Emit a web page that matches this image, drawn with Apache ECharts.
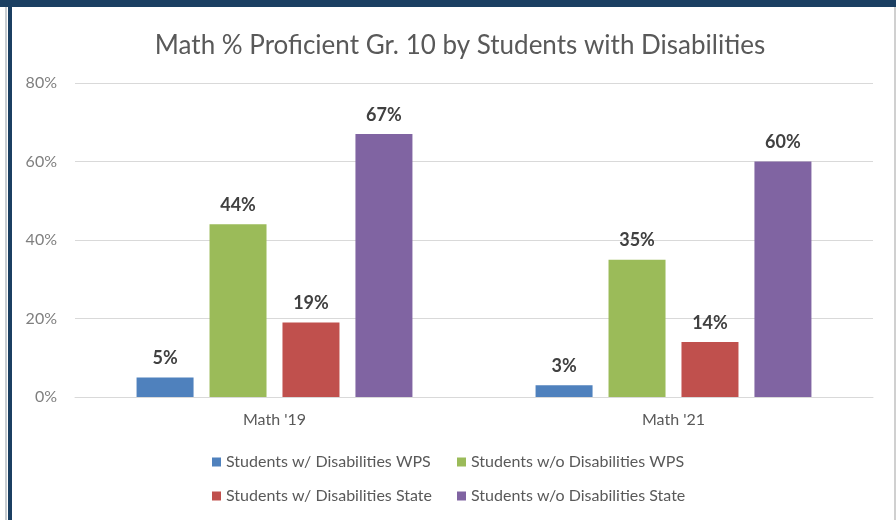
<!DOCTYPE html>
<html>
<head>
<meta charset="utf-8">
<script src="https://cdn.jsdelivr.net/npm/echarts@6/dist/echarts.min.js"></script>
<style>
  html, body { margin: 0; padding: 0; background: #fff; }
  #main { width: 896px; height: 520px; }
</style>
</head>
<body>
<div id="main"></div>
<script>
var categories = ["Math '19", "Math '21"];
var swdWps = [5, 3];
var swodWps = [44, 35];
var swdState = [19, 14];
var swodState = [67, 60];
var yTicks = [0, 20, 40, 60, 80];

var font = 'Lato';
var chart = echarts.init(document.getElementById('main'));

function barSeries(name, data, color) {
  return {
    name: name,
    type: 'bar',
    data: data,
    barWidth: 57,
    barGap: '28%',
    itemStyle: { color: color },
    label: {
      show: true,
      position: 'top',
      distance: 10,
      formatter: '{c}%',
      color: '#404040',
      fontWeight: 'bold',
      fontSize: 18,
      fontFamily: font
    }
  };
}

var legendText = { color: '#595959', fontSize: 16, fontFamily: font };

var option = {
  animation: false,
  textStyle: { fontFamily: font },
  title: {
    text: 'Math % Proficient Gr. 10 by Students with Disabilities',
    left: 455,
    textAlign: 'center',
    top: 28,
    textStyle: { color: '#595959', fontSize: 26, fontWeight: 'normal', fontFamily: font }
  },
  legend: [{
    data: ['Students w/ Disabilities WPS', 'Students w/ Disabilities State'],
    orient: 'vertical',
    left: 207,
    top: 449,
    icon: 'rect',
    itemWidth: 9,
    itemHeight: 9,
    itemGap: 18,
    textStyle: legendText
  }, {
    data: ['Students w/o Disabilities WPS', 'Students w/o Disabilities State'],
    orient: 'vertical',
    left: 452,
    top: 449,
    icon: 'rect',
    itemWidth: 9,
    itemHeight: 9,
    itemGap: 18,
    textStyle: legendText
  }],
  grid: { left: 75, right: 23, top: 83, bottom: 123 },
  xAxis: {
    type: 'category',
    data: categories,
    axisLine: { lineStyle: { color: '#d9d9d9', width: 1 } },
    axisTick: { show: false },
    axisLabel: { color: '#595959', fontSize: 16, margin: 15, fontFamily: font }
  },
  yAxis: {
    type: 'value',
    min: yTicks[0],
    max: yTicks[yTicks.length - 1],
    interval: yTicks[1] - yTicks[0],
    axisLine: { show: false },
    axisTick: { show: false },
    splitLine: { lineStyle: { color: '#d9d9d9', width: 1 } },
    axisLabel: { color: '#7f7f7f', fontSize: 16, margin: 18, formatter: '{value}%', fontFamily: font }
  },
  graphic: [
    { type: 'rect', shape: { x: 0, y: 0, width: 896, height: 7 }, style: { fill: '#1b3f62' } },
    { type: 'rect', shape: { x: 5, y: 7, width: 2, height: 513 }, style: { fill: '#c8cdd2' } },
    { type: 'rect', shape: { x: 8, y: 7, width: 4, height: 513 }, style: { fill: '#1b3f62' } },
    { type: 'rect', shape: { x: 894, y: 7, width: 2, height: 513 }, style: { fill: '#d0d0d0' } }
  ],
  series: [
    barSeries('Students w/ Disabilities WPS', swdWps, '#4f81bd'),
    barSeries('Students w/o Disabilities WPS', swodWps, '#9bbb59'),
    barSeries('Students w/ Disabilities State', swdState, '#c0504d'),
    barSeries('Students w/o Disabilities State', swodState, '#8064a2')
  ]
};
chart.setOption(option);
</script>
</body>
</html>
